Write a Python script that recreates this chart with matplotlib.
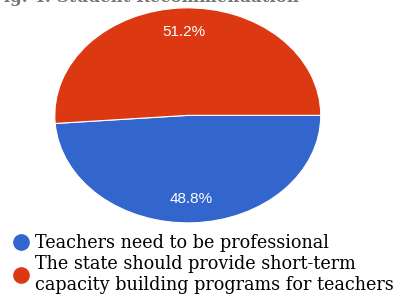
import matplotlib.pyplot as plt
from matplotlib.lines import Line2D

# data
labels = ['Teachers need to be professional',
          'The state should provide short-term\ncapacity building programs for teachers']
values = [48.8, 51.2]
colors = ['#3366CC', '#DC3912']

fig = plt.figure(figsize=(4.06, 3.02), dpi=100)

# cropped title at top of picture
fig.text(-0.02, 1 - 2 / 302, 'Fig. 4: Student Recommendation', fontsize=12, fontweight='bold',
         family='DejaVu Serif', color='#777777', va='baseline', ha='left')

ax = fig.add_axes([0.135, 0.262, 0.655, 0.712])
wedges, texts, autotexts = ax.pie(values, colors=colors, startangle=0, counterclock=False,
                                  autopct='%1.1f%%', pctdistance=0.78,
                                  wedgeprops=dict(edgecolor='white', linewidth=0.8),
                                  textprops=dict(color='white', fontsize=11,
                                                 family='Liberation Sans'))
ax.set_aspect('auto')
ax.set_xlim(-1, 1)
ax.set_ylim(-1, 1)

handles = [Line2D([], [], marker='o', linestyle='', markersize=11, color=c) for c in colors]
leg = fig.legend(handles, labels, loc='upper left', bbox_to_anchor=(0.025, 0.232), frameon=False,
                 prop=dict(family='DejaVu Serif', size=12.7), handletextpad=0.3,
                 handlelength=1.0, labelspacing=0.18, borderaxespad=0, borderpad=0.1)
for t in leg.get_texts():
    t.set_linespacing(1.25)

fig.savefig('out.png', dpi=100)
